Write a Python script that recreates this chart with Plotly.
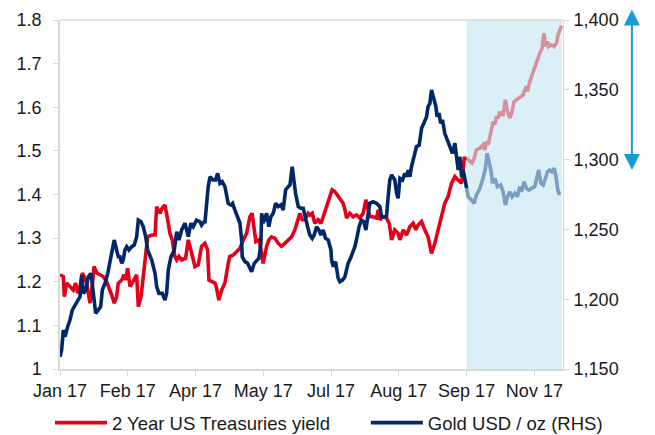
import pandas as pd
import plotly.graph_objects as go

# ---------------- data ----------------
BASE_DATE = "2017-01-02"
SHADE_START_DAY = 270          # start of shaded period (days since base)
SHADE_END_DAY = 333.2

tick_days = [0, 45, 90, 135, 180, 225, 270, 315]
tick_labels = ["Jan 17", "Feb 17", "Apr 17", "May 17", "Jul 17", "Aug 17", "Sep 17", "Nov 17"]

yield_days = [0, 2.2, 2.9, 4.4, 6.6, 8.8, 10.4, 11.7, 13.3, 14.8, 16.1, 17.7, 18.8, 19.9, 21.4, 22.6,
              24.4, 26.5, 28.7, 31.0, 33.2, 34.7, 36.0, 37.6, 38.7, 41.0, 42.5, 43.6, 44.9, 46.5, 48.0,
              49.8, 50.9, 52.0, 53.8, 55.3, 56.9, 58.2, 60.9, 63.1, 64.2, 66.4, 67.9, 69.7, 71.9, 73.0,
              74.5, 76.3, 77.5, 79.0, 80.8, 83.4, 85.2, 86.7, 87.8, 89.6, 91.8, 94.0, 96.2, 98.0, 98.9,
              100.7, 102.9, 104.0, 105.5, 107.3, 109.5, 111.7, 112.8, 115.0, 117.3, 119.5, 121.7, 123.9,
              126.1, 127.6, 129.0, 130.1, 132.3, 133.9, 134.9, 137.2, 138.7, 140.5, 142.7, 144.9, 147.1,
              149.3, 151.5, 153.8, 156.0, 157.1, 159.3, 160.8, 162.6, 164.8, 165.9, 167.5, 169.2, 171.4,
              173.2, 174.8, 177.0, 179.2, 180.7, 182.5, 184.7, 185.8, 188.0, 189.2, 190.3, 192.5, 194.7,
              196.9, 199.1, 201.3, 203.1, 204.6, 205.7, 207.9, 210.2, 211.3, 212.4, 214.6, 216.8, 218.6,
              220.2, 222.3, 224.5, 225.7, 227.9, 230.1, 232.3, 234.5, 236.3, 237.8, 240.1, 242.2, 244.4,
              246.7, 248.9, 251.1, 253.3, 255.5, 257.7, 260.0, 262.2, 264.4, 266.6, 267.7, 268.4,
              270.0, 272.1, 273.6, 275.0, 276.5, 278.8, 280.9, 282.1, 283.2, 284.3, 286.1, 287.6, 288.7,
              289.8, 290.9, 292.0, 293.2, 294.2, 295.8, 297.1, 298.7, 300.2, 301.5, 303.1, 305.3, 307.5,
              308.6, 309.7, 310.4, 311.9, 313.5, 315.3, 317.0, 318.6, 320.1, 321.4, 322.4, 323.7, 324.5,
              326.3, 328.1, 329.7, 330.7, 331.9, 333.0]
yield_vals = [1.216, 1.212, 1.166, 1.197, 1.189, 1.181, 1.197, 1.174, 1.189, 1.220, 1.212, 1.197, 1.174,
              1.151, 1.189, 1.235, 1.220, 1.216, 1.212, 1.200, 1.181, 1.166, 1.151, 1.166, 1.197, 1.204,
              1.216, 1.204, 1.231, 1.189, 1.197, 1.212, 1.216, 1.143, 1.166, 1.212, 1.273, 1.303, 1.307,
              1.307, 1.372, 1.357, 1.369, 1.376, 1.334, 1.311, 1.296, 1.258, 1.250, 1.258, 1.250, 1.254,
              1.296, 1.273, 1.258, 1.235, 1.239, 1.281, 1.288, 1.273, 1.204, 1.200, 1.197, 1.185, 1.158,
              1.181, 1.197, 1.242, 1.258, 1.261, 1.269, 1.277, 1.296, 1.311, 1.349, 1.357, 1.319, 1.292,
              1.296, 1.258, 1.242, 1.281, 1.296, 1.303, 1.300, 1.288, 1.281, 1.288, 1.296, 1.303, 1.319,
              1.334, 1.357, 1.342, 1.342, 1.357, 1.353, 1.357, 1.334, 1.342, 1.334, 1.349, 1.372, 1.395,
              1.411, 1.407, 1.395, 1.392, 1.380, 1.365, 1.346, 1.357, 1.349, 1.353, 1.346, 1.357, 1.388,
              1.365, 1.349, 1.349, 1.346, 1.365, 1.342, 1.349, 1.346, 1.334, 1.296, 1.319, 1.311, 1.296,
              1.319, 1.307, 1.326, 1.334, 1.319, 1.330, 1.338, 1.319, 1.303, 1.265, 1.288, 1.319, 1.349,
              1.380, 1.395, 1.426, 1.441, 1.433, 1.426, 1.456, 1.483,
              1.483, 1.475, 1.472, 1.483, 1.502, 1.506, 1.514, 1.502, 1.521, 1.514, 1.544, 1.567, 1.560,
              1.579, 1.575, 1.590, 1.583, 1.583, 1.617, 1.590, 1.575, 1.590, 1.613, 1.617, 1.625, 1.628,
              1.640, 1.648, 1.636, 1.659, 1.674, 1.693, 1.709, 1.724, 1.735, 1.770, 1.739, 1.751, 1.739,
              1.743, 1.739, 1.747, 1.766, 1.781, 1.787]

gold_days = [0, 1.1, 2.2, 3.3, 5.1, 6.6, 8.2, 10.0, 11.7, 13.3, 14.4, 15.5, 17.1, 18.8, 20.6, 21.4, 22.8,
             23.7, 25.4, 27.0, 28.1, 29.9, 31.7, 33.2, 34.7, 36.0, 37.6, 38.7, 39.8, 41.0, 42.0, 43.1,
             44.3, 45.8, 47.6, 49.3, 50.9, 52.0, 53.8, 55.3, 56.9, 58.2, 60.9, 63.1, 64.2, 65.7, 67.9,
             69.7, 70.8, 71.9, 73.7, 75.9, 77.5, 79.0, 80.8, 83.0, 84.1, 85.2, 86.9, 88.5, 90.7, 92.9,
             94.0, 95.8, 96.2, 98.4, 99.6, 101.7, 103.3, 104.7, 106.2, 107.7, 109.5, 110.6, 111.7, 113.5,
             114.6, 116.1, 117.9, 119.5, 120.6, 121.0, 122.8, 124.6, 126.1, 127.2, 129.0, 130.6, 132.1,
             133.4, 133.9, 134.9, 136.1, 137.2, 138.7, 140.0, 141.6, 143.2, 144.9, 146.7, 148.2, 149.8,
             151.5, 152.7, 154.2, 155.3, 156.4, 158.2, 160.0, 161.5, 162.6, 164.4, 165.9, 167.5, 168.8,
             170.4, 171.9, 173.2, 174.8, 176.3, 178.1, 179.9, 180.3, 181.4, 183.0, 183.7, 184.7, 185.8,
             187.6, 189.2, 190.3, 191.3, 192.9, 194.3, 195.8, 197.3, 198.6, 200.2, 201.8, 203.1, 204.6,
             205.7, 207.9, 210.2, 212.4, 213.5, 214.6, 216.8, 217.9, 219.0, 220.2, 222.3, 223.5, 224.5,
             225.7, 227.4, 229.0, 230.1, 231.2, 232.3, 233.4, 235.0, 236.7, 238.5, 240.1, 241.6, 243.4,
             244.4, 245.6, 246.7, 247.8, 249.6, 250.4, 251.7, 252.7, 254.0, 255.5, 257.0, 258.8, 260.6,
             262.2, 263.3, 264.4, 265.5, 266.6, 267.7, 268.8,
             270.0, 271.0, 273.3, 275.0, 276.5, 278.8, 280.9, 282.5, 283.6, 284.7, 286.1, 287.2, 288.7,
             290.5, 292.7, 294.2, 295.8, 297.1, 298.7, 300.2, 302.0, 303.8, 305.3, 306.4, 308.2, 309.7,
             311.3, 313.1, 315.3, 317.0, 317.9, 319.3, 320.8, 322.4, 323.7, 325.2, 326.7, 328.1, 329.2,
             330.4, 331.2, 332.5]
gold_vals = [1158.8, 1163.6, 1177.9, 1173.1, 1180.3, 1185.1, 1192.3, 1195.8, 1199.4, 1201.8, 1217.3,
             1204.2, 1206.6, 1216.1, 1218.5, 1211.4, 1194.6, 1189.9, 1192.3, 1194.6, 1206.6, 1211.4,
             1218.5, 1225.7, 1235.2, 1242.4, 1235.2, 1230.4, 1230.4, 1225.7, 1228.1, 1235.2, 1237.6,
             1235.2, 1237.6, 1238.8, 1244.8, 1256.7, 1255.5, 1251.9, 1244.8, 1235.2, 1228.1, 1218.5,
             1209.0, 1204.2, 1204.2, 1199.4, 1204.2, 1220.9, 1230.4, 1235.2, 1248.3, 1242.4, 1249.6,
             1254.4, 1249.6, 1244.8, 1254.4, 1251.9, 1256.7, 1255.5, 1253.1, 1255.5, 1254.4, 1280.6,
             1287.7, 1285.4, 1285.4, 1290.2, 1283.0, 1284.2, 1280.6, 1275.9, 1268.7, 1267.5, 1268.7,
             1263.9, 1259.1, 1254.4, 1242.4, 1230.4, 1226.9, 1225.7, 1222.1, 1219.7, 1225.7, 1228.1,
             1229.3, 1240.0, 1261.5, 1254.4, 1259.1, 1261.5, 1251.9, 1259.1, 1261.5, 1268.7, 1266.3,
             1267.5, 1263.9, 1278.2, 1280.6, 1281.8, 1294.9, 1285.4, 1275.9, 1266.3, 1265.1, 1265.1,
             1259.1, 1251.9, 1246.0, 1243.6, 1246.0, 1251.9, 1249.6, 1246.0, 1249.6, 1243.6, 1242.4,
             1235.2, 1228.1, 1223.3, 1226.9, 1220.9, 1215.0, 1212.5, 1213.7, 1216.1, 1220.9, 1225.7,
             1229.3, 1232.9, 1237.6, 1244.8, 1251.9, 1256.7, 1255.5, 1249.6, 1259.1, 1268.7, 1269.8,
             1268.7, 1266.3, 1259.1, 1259.1, 1259.1, 1273.4, 1285.4, 1289.0, 1285.4, 1275.9, 1272.3,
             1286.6, 1285.4, 1290.2, 1287.7, 1292.5, 1287.7, 1294.9, 1302.1, 1309.2, 1310.4, 1322.4,
             1326.0, 1330.7, 1337.9, 1340.3, 1349.8, 1345.1, 1337.9, 1330.7, 1333.2, 1326.0, 1328.4,
             1318.8, 1314.0, 1309.2, 1304.5, 1311.7, 1302.1, 1292.5, 1302.1, 1287.7, 1292.5, 1285.4,
             1279.6, 1273.4, 1271.1, 1268.7, 1274.6, 1279.4, 1286.6, 1293.8, 1304.5, 1299.7, 1292.5,
             1283.0, 1286.6, 1280.6, 1281.8, 1277.0, 1267.5, 1273.4, 1277.0, 1273.4, 1275.9, 1273.4,
             1280.6, 1277.0, 1284.2, 1279.4, 1278.2, 1279.4, 1280.6, 1289.0, 1292.5, 1283.0, 1281.8,
             1286.6, 1291.3, 1292.5, 1291.3, 1293.8, 1289.0, 1279.4, 1275.8, 1275.8]

# ---------------- helpers ----------------
base = pd.Timestamp(BASE_DATE)


def to_dates(days):
    return [base + pd.Timedelta(days=float(d)) for d in days]


def split(days, vals, cut):
    k = max(i for i, d in enumerate(days) if d <= cut)
    return (days[:k + 1], vals[:k + 1]), (days[k:], vals[k:])


(yd_a, yv_a), (yd_b, yv_b) = split(yield_days, yield_vals, SHADE_START_DAY)
(gd_a, gv_a), (gd_b, gv_b) = split(gold_days, gold_vals, SHADE_START_DAY)

RED, RED_LIGHT = "#e2001a", "#d6919f"
NAVY, NAVY_LIGHT = "#002868", "#7b9ec2"
FONT = "Liberation Sans, Arial, sans-serif"
GRID = "#d9d9d9"
LW = 3.6

fig = go.Figure()
fig.add_vrect(x0=to_dates([SHADE_START_DAY])[0], x1=to_dates([SHADE_END_DAY])[0],
              fillcolor="#dbeff7", line_width=0, layer="below")

fig.add_trace(go.Scatter(x=to_dates(yd_b), y=yv_b, mode="lines", line=dict(color=RED_LIGHT, width=LW),
                         showlegend=False, hoverinfo="skip"))
fig.add_trace(go.Scatter(x=to_dates(gd_b), y=gv_b, mode="lines", yaxis="y2",
                         line=dict(color=NAVY_LIGHT, width=LW), showlegend=False, hoverinfo="skip"))
fig.add_trace(go.Scatter(x=to_dates(yd_a), y=yv_a, mode="lines", name="2 Year US Treasuries yield",
                         line=dict(color=RED, width=LW), legend="legend"))
fig.add_trace(go.Scatter(x=to_dates(gd_a), y=gv_a, mode="lines", name="Gold USD / oz (RHS)", yaxis="y2",
                         line=dict(color=NAVY, width=LW), legend="legend2"))

x_end = to_dates([334.0])[0]
leg_common = dict(orientation="h", yanchor="middle", xanchor="left", y=-0.155, itemwidth=52,
                  font=dict(size=18.5), bgcolor="rgba(0,0,0,0)")
# the page body adds an 8px offset, so the figure is 8px smaller with 8px less left/top margin
fig.update_layout(
    width=647, height=427,
    margin=dict(l=52, r=92, t=12, b=66, autoexpand=False),
    paper_bgcolor="white", plot_bgcolor="rgba(0,0,0,0)",
    font=dict(family=FONT, size=18, color="#1a1a1a"),
    xaxis=dict(type="date", range=[base, x_end], tickvals=to_dates(tick_days), ticktext=tick_labels,
               showgrid=False, showline=True, linecolor=GRID, linewidth=1.5, automargin=False,
               ticks="outside", ticklen=5, tickcolor=GRID, zeroline=False, ticklabelstandoff=0),
    yaxis=dict(range=[1, 1.8], dtick=0.1, tick0=1, showgrid=False, showline=True, linecolor=GRID,
               linewidth=1.5, ticks="outside", ticklen=5, tickcolor=GRID, zeroline=False,
               ticklabelstandoff=8, automargin=False),
    yaxis2=dict(range=[1150, 1400], dtick=50, tickformat=",", overlaying="y", side="right",
                showgrid=False, showline=True, linecolor=GRID, linewidth=1, ticks="outside", ticklen=5,
                tickcolor=GRID, zeroline=False, ticklabelstandoff=1, automargin=False),
    legend=dict(x=-0.02, **leg_common),
    legend2=dict(x=0.608, **leg_common),
    showlegend=True,
)

# top border line of plot area
fig.add_shape(type="line", xref="paper", yref="paper", x0=0, x1=1, y0=1, y1=1,
              line=dict(color=GRID, width=1.5))

# double-headed arrow on the right (tip at top, tail at bottom, heads at both ends)
fig.add_annotation(xref="paper", yref="paper", x=1.137, y=1.03, ax=0, ay=162,
                   axref="pixel", ayref="pixel", text="", showarrow=True,
                   arrowhead=2, startarrowhead=2, arrowside="end+start",
                   arrowsize=1.6, startarrowsize=1.6, arrowwidth=2, arrowcolor="#1a9ad6")

fig.write_html("out.html")
